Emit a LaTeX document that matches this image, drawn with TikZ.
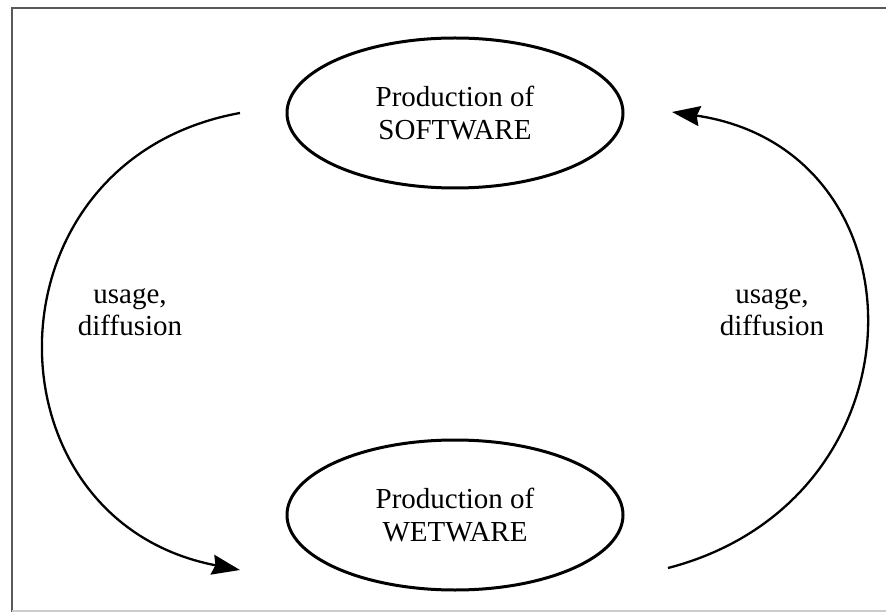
\documentclass[tikz,border=0pt]{standalone}
\usepackage{fontspec}
\setmainfont{Liberation Serif}
\usetikzlibrary{shapes.geometric,arrows.meta}
\begin{document}
\begin{tikzpicture}[x=1pt,y=-1pt,
  blob/.style={ellipse,draw,line width=3pt,minimum width=336pt,minimum height=150pt,inner sep=0pt,align=center,font=\fontsize{29}{33}\selectfont},
  lbl/.style={align=center,font=\fontsize{29}{32}\selectfont},
  flow/.style={line width=2.3pt,-{Stealth[length=28pt,width=20pt,inset=3pt]}}]
\useasboundingbox (0,0) rectangle (886,612);
\fill[white] (0,0) rectangle (886,612);
\draw[line width=2pt,black!65] (12,620) -- (12,8) -- (890,8);
\draw[line width=1.5pt,black!20] (12,611) -- (890,611);
\node[blob] (sw) at (455,113) {Production of\\SOFTWARE};
\node[blob] (ww) at (455,515) {Production of\\WETWARE};
\coordinate (ls) at (240,113);
\coordinate (le) at (240,570);
\coordinate (rs) at (668,568);
\coordinate (re) at (672,112);
\draw[flow] (ls) .. controls (-20,160) and (-20,520) .. (le);
\draw[flow] (rs) .. controls (930,500) and (930,150) .. (re);
\node[lbl] (l1) at (130,312) {usage,\\diffusion};
\node[lbl] (l2) at (772,312) {usage,\\diffusion};
\end{tikzpicture}
\end{document}
